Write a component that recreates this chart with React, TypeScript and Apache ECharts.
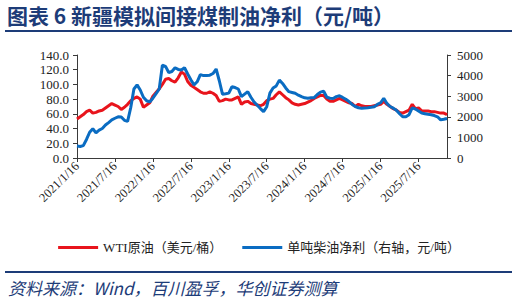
import React, { useEffect, useRef } from "react";
import * as echarts from "echarts";

// Semi-monthly observation dates, starting 2021/1/16 (1st and 16th of each month)
const startYear = 2021;
const pointCount = 118;
const dates: string[] = (() => {
  const out: string[] = [];
  for (let y = startYear; y <= 2025; y++) {
    for (let m = 1; m <= 12; m++) {
      for (const d of [1, 16]) {
        if (y === 2021 && m === 1 && d === 1) continue;
        out.push(`${y}/${m}/${d}`);
      }
    }
  }
  return out.slice(0, pointCount);
})();

// WTI crude (USD/bbl), left axis
const wti: number[] = [
  53, 56, 59, 63, 65, 61, 62, 64, 65, 68, 71, 74,
  72, 70, 66, 69, 73, 78, 81, 83, 80, 69, 72, 75,
  84, 89, 94, 100, 107, 108, 105, 103, 109, 117, 114, 104,
  99, 96, 93, 90, 88, 88, 90, 88, 85, 77, 78, 80,
  79, 79, 81, 83, 73, 76, 77, 74, 73, 72, 71, 73,
  78, 80, 81, 86, 90, 86, 82, 79, 75, 73, 72, 73,
  74, 76, 78, 81, 83, 85, 85, 80, 77, 77, 79, 81,
  79, 77, 75, 74, 70, 73, 71, 70, 70, 70, 71, 72,
  73, 77, 73, 70, 67, 65, 62, 61, 63, 65, 73, 67,
  68, 64, 64, 64, 63, 63, 62, 61, 61, 59,
];

// Diesel net profit per tonne (CNY/t), right axis
const dieselProfit: number[] = [
  580, 560, 600, 900, 1250, 1420, 1220, 1350, 1430, 1600, 1720, 1850,
  1930, 2000, 1990, 1830, 1780, 2450, 3350, 3550, 3300, 2950, 2780, 2720,
  2900, 3120, 3350, 4500, 4450, 4150, 4200, 4380, 4300, 4270, 4380, 4080,
  3800, 3550, 3700, 4050, 4000, 4000, 4020, 4100, 4320, 3750, 3100, 3120,
  3150, 3460, 3420, 3350, 2980, 3100, 3220, 2950, 2720, 2560, 2400, 2250,
  2490, 3150, 3400, 3500, 3780, 3620, 3400, 3220, 3180, 3140, 3050, 2980,
  2920, 2900, 2920, 2930, 3080, 3200, 3240, 2950, 2900, 2890, 2980, 3020,
  2940, 2850, 2740, 2600, 2500, 2440, 2410, 2430, 2440, 2460, 2490, 2600,
  2680, 2900, 2650, 2500, 2420, 2320, 2150, 2000, 2000, 2100, 2430, 2380,
  2280, 2180, 2150, 2120, 2100, 2060, 2000, 1850, 1880, 1920,
];

const seriesNames = ["WTI原油（美元/桶）", "单吨柴油净利（右轴，元/吨）"];
const titleText = "图表 6 新疆模拟间接煤制油净利（元/吨）";
const sourceText = "资料来源：Wind，百川盈孚，华创证券测算";

const serif = "'Liberation Serif', 'Times New Roman', 'Noto Sans CJK SC', serif";
const navy = "#1D3C78";
const axisColor = "#3a3a3a";

export default function App() {
  const ref = useRef<HTMLDivElement>(null);

  useEffect(() => {
    if (!ref.current) return;
    const chart = echarts.init(ref.current, undefined, { renderer: "svg" });
    const isLabel = (_i: number, v: string) => /\/(1|7)\/16$/.test(v);
    chart.setOption({
      animation: false,
      backgroundColor: "#ffffff",
      grid: { left: 77, right: 71, top: 55, bottom: 146, containLabel: false },
      legend: {
        data: seriesNames,
        top: 236,
        left: "center",
        icon: "rect",
        itemWidth: 40,
        itemHeight: 3,
        itemGap: 20,
        textStyle: { fontFamily: serif, fontSize: 13, color: "#222" },
      },
      xAxis: {
        type: "category",
        data: dates,
        boundaryGap: false,
        axisLine: { lineStyle: { color: axisColor, width: 1 } },
        axisTick: { interval: isLabel, length: 4, lineStyle: { color: axisColor } },
        axisLabel: {
          interval: isLabel,
          rotate: 45,
          fontFamily: serif,
          fontSize: 12.5,
          color: "#222",
          margin: 6,
        },
        splitLine: { show: false },
      },
      yAxis: [
        {
          type: "value",
          min: 0,
          max: 140,
          interval: 20,
          position: "left",
          axisLine: { show: true, lineStyle: { color: axisColor } },
          axisTick: { show: true, length: 4, lineStyle: { color: axisColor } },
          axisLabel: {
            formatter: (v: number) => v.toFixed(1),
            fontFamily: serif,
            fontSize: 13,
            color: "#222",
            margin: 8,
          },
          splitLine: { show: false },
        },
        {
          type: "value",
          min: 0,
          max: 5000,
          interval: 1000,
          position: "right",
          axisLine: { show: true, lineStyle: { color: axisColor } },
          axisTick: { show: true, length: 4, lineStyle: { color: axisColor } },
          axisLabel: {
            formatter: (v: number) => String(v),
            fontFamily: serif,
            fontSize: 13,
            color: "#222",
            margin: 10,
          },
          splitLine: { show: false },
        },
      ],
      series: [
        {
          name: seriesNames[0],
          type: "line",
          yAxisIndex: 0,
          data: wti,
          symbol: "none",
          lineStyle: { color: "#E8141C", width: 3 },
          itemStyle: { color: "#E8141C" },
        },
        {
          name: seriesNames[1],
          type: "line",
          yAxisIndex: 1,
          data: dieselProfit,
          symbol: "none",
          lineStyle: { color: "#0A6CC2", width: 3 },
          itemStyle: { color: "#0A6CC2" },
        },
      ],
      graphic: [
        {
          type: "text",
          left: 7,
          top: 4,
          style: {
            text: titleText,
            fontSize: 21,
            fontWeight: "bold",
            fontFamily: "'Noto Sans CJK SC', sans-serif",
            fill: navy,
          },
        },
        {
          type: "line",
          shape: { x1: 5, y1: 31, x2: 512, y2: 31 },
          style: { stroke: navy, lineWidth: 2 },
        },
        {
          type: "line",
          shape: { x1: 5, y1: 272, x2: 512, y2: 272 },
          style: { stroke: navy, lineWidth: 2 },
        },
        {
          type: "text",
          left: 8,
          top: 279,
          style: {
            text: sourceText,
            fontSize: 17,
            fontStyle: "italic",
            fontFamily: "'Noto Sans CJK SC', serif",
            fill: navy,
          },
        },
      ],
    });
    return () => chart.dispose();
  }, []);

  return (
    <div
      ref={ref}
      style={{ position: "fixed", left: 0, top: 0, width: 518, height: 304, background: "#fff" }}
    />
  );
}
